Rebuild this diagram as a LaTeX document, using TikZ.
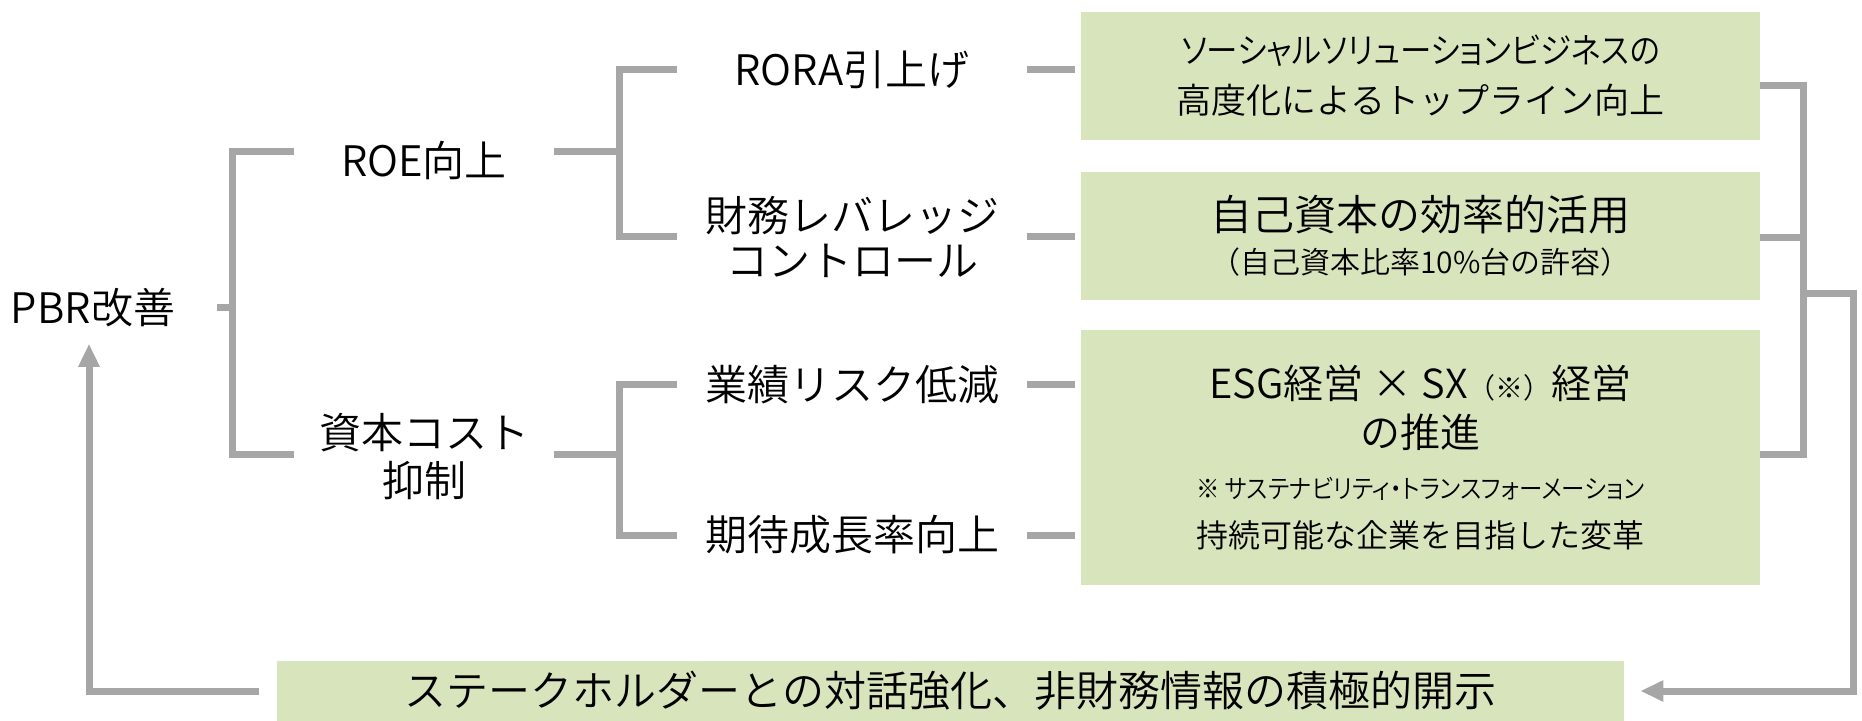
\documentclass[tikz,border=0pt]{standalone}
\usepackage{fontspec}
\IfFontExistsTF{Noto Sans CJK JP DemiLight}
 {\setmainfont{Noto Sans CJK JP DemiLight}
  \newfontfamily\propfont[RawFeature=+palt,FakeStretch=0.9]{Noto Sans CJK JP DemiLight}}
 {\setmainfont{Noto Sans CJK JP}
  \newfontfamily\propfont[RawFeature=+palt,FakeStretch=0.9]{Noto Sans CJK JP}}
\usetikzlibrary{arrows.meta}
\definecolor{conngray}{HTML}{A6A6A6}
\definecolor{leaf}{HTML}{D8E4BC}

\begin{document}
\begin{tikzpicture}[x=0.5pt,y=-0.5pt,>={Triangle[width=10pt,length=11.5pt]},
 conn/.style={draw=conngray,line width=3.5pt},
 lvl/.style={font=\fontsize{21}{23}\selectfont,align=center,inner sep=0pt},
 lvlone/.style={lvl,minimum width=130pt},
 lvltwo/.style={lvl,minimum width=175pt},
 goal/.style={fill=leaf,inner sep=0pt,minimum width=339.5pt,align=center}]
\useasboundingbox (0,0) rectangle (1862,721);
% tree on the left
\node[lvl,minimum width=124pt] (pbr) at (93,308) {PBR改善};
\node[lvlone] (roe) at (424,160) {ROE向上};
\node[lvlone,font=\fontsize{21}{24}\selectfont] (shihon) at (424,457) {資本コスト\\抑制};
\node[lvltwo] (rora) at (852,70) {RORA引上げ};
\node[lvltwo,font=\fontsize{21}{22.5}\selectfont] (zaimu) at (852,237) {財務レバレッジ\\コントロール};
\node[lvltwo] (gyoseki) at (852,385) {業績リスク低減};
\node[lvltwo] (kitai) at (852,535) {期待成長率向上};
% measures
\node[goal,minimum height=64pt,font=\fontsize{17.5}{25}\selectfont] (social) at (1420.5,76)
 {{\propfont\fontsize{17.5}{25}\selectfont ソーシャルソリューションビジネスの}\\高度化によるトップライン向上};
\node[goal,minimum height=64pt,font=\fontsize{21}{21.3}\selectfont] (equity) at (1420.5,236)
 {自己資本の効率的活用\\{\fontsize{15}{18}\selectfont （自己資本比率10\%台の許容）}};
\node[goal,minimum height=127.5pt,font=\fontsize{20}{24.5}\selectfont] (esg) at (1420.5,457.5)
 {ESG経営 × SX{\fontsize{14}{16}\selectfont（※）}経営\\の推進\\[1.4pt]
  {\propfont\fontsize{13}{16}\selectfont ※ サステナビリティ・トランスフォーメーション}\\
  {\fontsize{16}{18}\selectfont 持続可能な企業を目指した変革}};
\node[goal,minimum width=673.5pt,minimum height=30pt,font=\fontsize{21}{23}\selectfont] (dialog) at (950.5,691)
 {ステークホルダーとの対話強化、非財務情報の積極的開示};
% brackets
\coordinate (j0) at ([xshift=7.5pt]pbr.east);
\coordinate (j1) at ([xshift=32.5pt,yshift=4pt]roe.east);
\coordinate (j2) at ([xshift=32.5pt,yshift=1.5pt]shihon.east);
\draw[conn] (pbr.east) -- (j0);
\draw[conn] ([yshift=4pt]roe.west) -| (j0);
\draw[conn] ([yshift=1.5pt]shihon.west) -| (j0);
\draw[conn] ([yshift=4pt]roe.east) -- (j1);
\draw[conn] (rora.west) -| (j1);
\draw[conn] (zaimu.west) -| (j1);
\draw[conn] ([yshift=1.5pt]shihon.east) -- (j2);
\draw[conn] (gyoseki.west) -| (j2);
\draw[conn] (kitai.west) -| (j2);
\draw[conn,shorten >=3pt] (rora.east) -- (rora.east -| social.west);
\draw[conn,shorten >=3pt] (zaimu.east) -- (zaimu.east -| equity.west);
\draw[conn,shorten >=3pt] (gyoseki.east) -- (gyoseki.east -| esg.west);
\draw[conn,shorten >=3pt] (kitai.east) -- (kitai.east -| esg.west);
% feedback loop
\coordinate (jr) at (1803,294);
\draw[conn] ([yshift=-5pt]social.east) -| (jr);
\draw[conn] ([yshift=-1pt]equity.east) -| (jr);
\draw[conn] ([yshift=1.5pt]esg.east) -| (jr);
\draw[conn,->] (jr) -- ++(50,0) |- ([xshift=8pt]dialog.east);
\draw[conn,->] ([xshift=-9pt]dialog.west) -| ([xshift=-2pt,yshift=-8pt]pbr.south);
\end{tikzpicture}
\end{document}
